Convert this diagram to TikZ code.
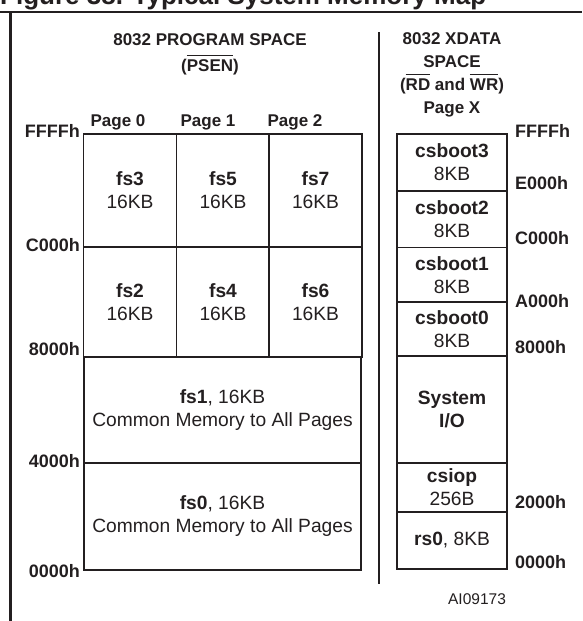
\documentclass[tikz,border=0pt]{standalone}
\usepackage{fontspec}
\setmainfont{Liberation Sans}
\usetikzlibrary{positioning}
\definecolor{tinta}{HTML}{231F20}
\colorlet{colLinea}{tinta}
\colorlet{colTexto}{tinta}
\newcommand{\negado}[1]{$\overline{\rule{0pt}{0.84em}\mbox{#1}}$}
\tikzset{
  celdaMem/.style={
    draw=colLinea, line width=1.6pt, align=center, inner sep=0pt,
    font=\fontsize{19.2}{23}\selectfont, text=colTexto
  },
  celdaProg/.style={celdaMem, minimum width=93pt},
  celdaComun/.style={celdaMem, minimum width=277pt},
  celdaDatos/.style={celdaMem, minimum width=110pt},
  etiquetaDir/.style={font=\bfseries\fontsize{18}{21}\selectfont, text=colTexto, inner sep=0pt},
  dirIzq/.style={etiquetaDir, anchor=east},
  dirDer/.style={etiquetaDir, anchor=west},
  cabecera/.style={font=\bfseries\fontsize{17}{#1}\selectfont, text=colTexto, align=center, inner sep=0pt},
  cabecera/.default=24,
  marco/.style={line width=2.6pt, colLinea},
  divisor/.style={line width=1.6pt, colLinea},
}

\begin{document}
\begin{tikzpicture}[x=1pt, y=-1pt]
    \useasboundingbox (0,0) rectangle (582,621);
    % title, cut off by the page edge
    \begin{scope}
      \clip (0,0) rectangle (582,11);
      \node[anchor=base west, inner sep=0pt, text=colTexto,
            font=\bfseries\fontsize{26}{30}\selectfont] (titulo) at (0,5) {Figure 38. Typical System Memory Map};
    \end{scope}
    \coordinate (marcoIzq) at (0,12);
    \coordinate (marcoDer) at (582,12);
    \coordinate (marcoEsq) at (10.5,12);
    \coordinate (marcoPie) at (10.5,621);
    \draw[marco] (marcoIzq) -- (marcoDer);
    \draw[marco] (marcoEsq) -- (marcoPie);
    \coordinate (divArriba) at (379,32);
    \coordinate (divAbajo) at (379,584);
    \draw[divisor] (divArriba) -- (divAbajo);

    % headings
    \node[cabecera=26] (progTit) at (210,54) {8032 PROGRAM SPACE\\(\negado{PSEN})};
    \node[cabecera=23] (xdataTit) at (452,63) {8032 XDATA\\SPACE\\(\negado{RD} and \negado{WR})};
    \node[cabecera] (pag0) at (118,122) {Page 0};
    \node[cabecera] (pag1) at (208,122) {Page 1};
    \node[cabecera] (pag2) at (295,122) {Page 2};
    \node[cabecera] (pagX) at (452,109) {Page X};

    % program space
    \node[celdaProg, minimum height=113pt] (fs3) at (130,190.5) {\textbf{fs3}\\16KB};
    \node[celdaProg, minimum height=113pt] (fs5) at (223,190.5) {\textbf{fs5}\\16KB};
    \node[celdaProg, minimum height=113pt] (fs7) at (315.5,190.5) {\textbf{fs7}\\16KB};
    \node[celdaProg, minimum height=110pt] (fs2) at (130,302) {\textbf{fs2}\\16KB};
    \node[celdaProg, minimum height=110pt] (fs4) at (223,302) {\textbf{fs4}\\16KB};
    \node[celdaProg, minimum height=110pt] (fs6) at (315.5,302) {\textbf{fs6}\\16KB};
    \node[celdaComun, minimum height=106pt] (fs1) at (222.5,410) {\textbf{fs1}, 16KB\\Common Memory to All Pages};
    \node[celdaComun, minimum height=107pt] (fs0) at (222.5,516.5) {\textbf{fs0}, 16KB\\Common Memory to All Pages};

    \node[dirIzq] (pFFFF) at (80,131) {FFFFh};
    \node[dirIzq] (pC000) at (80,245) {C000h};
    \node[dirIzq] (p8000) at (80,349) {8000h};
    \node[dirIzq] (p4000) at (80,461) {4000h};
    \node[dirIzq] (p0000) at (80,571) {0000h};

    % xdata space
    \node[celdaDatos, minimum height=57pt] (csboot3) at (452,162.5) {\textbf{csboot3}\\8KB};
    \node[celdaDatos, minimum height=56.5pt] (csboot2) at (452,219.25) {\textbf{csboot2}\\8KB};
    \node[celdaDatos, minimum height=54.5pt] (csboot1) at (452,274.75) {\textbf{csboot1}\\8KB};
    \node[celdaDatos, minimum height=54pt] (csboot0) at (452,329) {\textbf{csboot0}\\8KB};
    \node[celdaDatos, minimum height=107pt] (sysio) at (452,409.5) {\textbf{System}\\\textbf{I/O}};
    \node[celdaDatos, minimum height=49pt] (csiop) at (452,487.5) {\textbf{csiop}\\256B};
    \node[celdaDatos, minimum height=57pt] (rs0) at (452,540.5) {\textbf{rs0}, 8KB};

    \node[dirDer] (xFFFF) at (515,131) {FFFFh};
    \node[dirDer] (xE000) at (515,183) {E000h};
    \node[dirDer] (xC000) at (515,238) {C000h};
    \node[dirDer] (xA000) at (515,301) {A000h};
    \node[dirDer] (x8000) at (515,347) {8000h};
    \node[dirDer] (x2000) at (515,502) {2000h};
    \node[dirDer] (x0000) at (515,562) {0000h};

    \node[font=\fontsize{15.5}{18}\selectfont, text=colTexto, inner sep=0pt] (codigo) at (477,599) {AI09173};
  \end{tikzpicture}
\end{document}
